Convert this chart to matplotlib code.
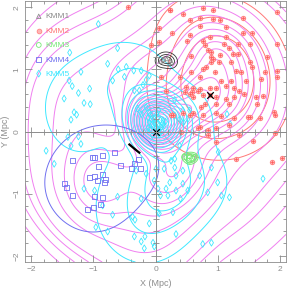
import numpy as np
import matplotlib
matplotlib.use("Agg")
import matplotlib.pyplot as plt

# ---------------- data (Mpc) ----------------
kmm1_x = [0.08, 0.13, 0.18, 0.23, 0.26]
kmm1_y = [1.13, 1.16, 1.17, 1.14, 1.11]

kmm2_x = [0.24, 0.44, 0.76, 0.92, 0.55, 0.71, 0.92, 1.03, 1.41, 1.95,
          0.71, 1.14, 1.41, 0.27, 0.55, 0.88, 1.14, 1.55,
          0.06, 0.50, 0.76, 0.80, 1.11, 1.19, 1.32, 1.52, 1.95,
          0.84, 0.90, 0.57, 0.90, 1.03, 1.25, 1.33, 1.79,
          0.93, 0.90, 1.02, 1.22, 1.52, 1.55, 0.82,
          0.57, 0.76, 0.95, 1.30, 1.38, 1.95, 1.76,
          0.09, 0.39, 0.71, 1.06, 1.22, 1.46, 1.70, 1.95,
          0.49, 0.60, 0.71, 0.87, 0.98, 1.14, 1.27, 1.35, 0.47, 0.58, 0.68,
          0.17, 0.55, 0.60, 0.76, 0.87, 0.98, 1.14, 1.27, 1.43, 1.62, 1.73,
          0.79, 0.98, 1.19, 0.74,
          0.28, 0.60, 0.76, 0.98, 1.06, 1.27, 1.52, 1.68, 1.92,
          0.71, 0.84, 0.98, 0.25, 0.55, 0.45,
          0.41, 0.68, 0.84, 0.98, 1.19, 1.35, 1.57, 1.92, 1.30, 1.87, 2.03,
          1.49, 1.63, 1.90, -0.45, -0.07, 0.06, 0.23]
kmm2_y = [1.95, 1.89, 1.99, 1.95, 1.79, 1.82, 1.81, 1.80, 1.83, 1.92,
          1.70, 1.68, 1.58, 1.58, 1.55, 1.52, 1.52, 1.58,
          1.44, 1.46, 1.46, 1.39, 1.41, 1.35, 1.41, 1.41, 1.41,
          1.31, 1.28, 1.21, 1.20, 1.23, 1.25, 1.24, 1.20,
          1.16, 1.12, 1.12, 1.12, 1.12, 1.04, 1.04,
          0.96, 1.00, 0.96, 0.98, 0.96, 0.98, 0.96,
          0.88, 0.88, 0.87, 0.82, 0.82, 0.82, 0.85, 0.88,
          0.71, 0.70, 0.69, 0.70, 0.70, 0.74, 0.70, 0.65, 0.63, 0.63, 0.65,
          0.65, 0.61, 0.56, 0.58, 0.58, 0.55, 0.53, 0.55, 0.61, 0.55, 0.57,
          0.45, 0.44, 0.45, 0.40,
          0.26, 0.29, 0.26, 0.29, 0.25, 0.22, 0.23, 0.22, 0.26,
          0.07, 0.02, 0.05, 0.26, 0.26, 0.30,
          -0.01, 0.05, -0.06, -0.17, 0.10, -0.06, -0.15, -0.03, -0.44, -0.49, -0.43,
          0.23, 0.45, 0.31, 2.00, 1.39, 1.66, 1.95]

kmm3_x = [0.47, 0.55, 0.59, 0.63, 0.54]
kmm3_y = [-0.41, -0.40, -0.44, -0.41, -0.47]

kmm4_x = [-1.33, -0.98, -0.85, -0.66, -0.92, -0.56, -0.28, -0.34, -0.39, -0.24,
          -1.06, -0.98, -0.85, -0.81, -0.94, -0.82, -1.47, -1.44, -1.33, -0.98,
          -0.85, -0.88, -0.99, -1.09, -1.01]
kmm4_y = [-0.47, -0.42, -0.39, -0.34, -0.56, -0.54, -0.45, -0.51, -0.60, -0.59,
          -0.74, -0.72, -0.69, -0.77, -0.79, -0.82, -0.83, -0.90, -1.03, -1.04,
          -1.06, -1.18, -1.22, -1.26, -0.42]

kmm5_x = [-0.92, -1.38, -1.20, -1.39, -1.34, -1.06, -1.24, -1.47, -0.77, -0.61,
          -0.69, -0.50, -0.47, -0.35, -0.23, -0.10, -0.15, -0.20, -0.34, -0.26, -0.60,
          -1.31, -1.27, -1.36, -1.15, -1.05, -1.76, -1.41, -1.24, -1.36, -1.20, -1.63,
          -0.98,
          -0.29, -0.23, -0.15, -0.10, -0.02, 0.04, -0.05, 0.09, 0.00, -0.08, 0.12,
          0.31, 0.39, 0.52, 0.45, 0.02, 0.06, -0.05, 0.01, 0.31, 0.44, 0.05, 0.55,
          -0.12, -0.06, 0.03, 0.08, -0.10, -0.02, 0.06, 0.14, -0.04, 0.02, 0.10,
          -0.12, 0.00, 0.05, 0.16, -0.07, 0.11,
          0.01, -0.31, -0.15, -0.02, 0.04, 0.14, 0.25, 0.31, 0.44, 0.44, 0.52,
          0.33, 0.23, 0.17, 0.39, 0.31, 0.33,
          0.71, 0.90, 1.00, 1.06, 1.19, 0.84, 1.01, 1.73, 0.28, 0.04,
          0.33, -0.04, 0.76, 0.90, 1.20, 1.15, 0.08, 0.20, 0.40,
          -0.61, -0.69, -0.77, -0.37, -0.33, -0.23, -0.10, -0.34, -0.23, -0.18,
          -0.02, 0.06, -1.15, -0.96, -0.17, -0.85]
kmm5_y = [1.73, 1.27, 0.96, 0.82, 0.73, 0.69, 0.62, 0.53, 1.09, 1.34,
          0.82, 0.88, 1.04, 0.98, 0.98, 0.90, 0.83, 0.75, 0.66, 0.66, 1.00,
          0.31, 0.27, 0.19, 0.46, 0.44, -0.31, -0.09, -0.08, -0.23, -0.20, -0.52,
          -0.95,
          0.37, 0.28, 0.39, 0.30, 0.20, 0.12, 0.12, 0.07, 0.05, 0.04, 0.18,
          0.26, 0.20, 0.20, 0.15, 0.28, -0.05, -0.06, 0.00, 0.51, 0.34, 0.34, 0.34,
          0.22, 0.25, 0.22, 0.18, 0.15, 0.14, 0.10, 0.10, 0.08, 0.06, 0.02,
          0.05, 0.17, -0.02, 0.16, 0.20, 0.13,
          -0.60, -0.63, -0.68, -0.79, -0.92, -0.60, -0.47, -0.58, -0.63, -0.84, -0.95,
          -0.95, -0.82, -0.92, -0.23, -0.44, -0.71,
          -0.71, -0.58, -0.82, -1.03, -1.06, -0.98, -0.33, -0.76, -1.30, -1.30,
          -1.65, -1.79, -1.81, -1.79, 0.12, 0.28, -1.03, -1.03, -1.08,
          -1.05, -1.34, -1.61, -1.37, -1.42, -1.08, -1.48, -1.69, -1.77, -1.88,
          -1.85, -1.32, -0.92, -1.54, -1.69, -1.19]

centers_x = [0.0, 0.87]
centers_y = [0.0, 0.58]
arc_x = [-0.42, -0.36, -0.30, -0.26]
arc_y = [-0.21, -0.26, -0.31, -0.34]

groups = ["KMM1", "KMM2", "KMM3", "KMM4", "KMM5"]

# ---------------- styling ----------------
GRAY = "#8c8c8c"
C_RED = "#ff7878"
C_GREEN = "#77e877"
C_BLUE = "#7070f0"
C_CYAN = "#40e8ff"
C_MAG = "#f080f0"
plt.rcParams['font.family'] = ['Liberation Sans', 'DejaVu Sans']

fig = plt.figure(figsize=(2.87, 2.91), dpi=100)
L, B, W, H = 25 / 287, 29 / 291, 261 / 287, 261 / 291
ax = fig.add_axes([L, B, W, H])
lim = (-2.1, 2.1)
ax.set_xlim(lim)
ax.set_ylim(lim)

# ---------------- adaptive kernel densities ----------------
g = np.linspace(-2.1, 2.1, 211)
GX, GY = np.meshgrid(g, g)


def adaptive_kde(xs, ys, h0, alpha=0.5):
    xs = np.asarray(xs, float)
    ys = np.asarray(ys, float)
    dd = (xs[:, None] - xs[None, :]) ** 2 + (ys[:, None] - ys[None, :]) ** 2
    pilot = np.exp(-dd / (2 * h0 * h0)).sum(1)
    lam = (pilot / np.exp(np.mean(np.log(pilot)))) ** (-alpha)
    hi = h0 * lam
    d2 = (GX[..., None] - xs) ** 2 + (GY[..., None] - ys) ** 2
    return (np.exp(-d2 / (2 * hi ** 2)) / hi ** 2).sum(-1)


all_x = kmm1_x + kmm2_x + kmm3_x + kmm4_x + kmm5_x
all_y = kmm1_y + kmm2_y + kmm3_y + kmm4_y + kmm5_y

d2 = adaptive_kde(kmm2_x, kmm2_y, 0.5, 0.3)
ax.contour(GX, GY, d2, levels=np.linspace(d2.max() * 0.2, d2.max() * 0.65, 3),
           colors=C_RED, linewidths=0.7, zorder=1)

d_all = adaptive_kde(all_x, all_y, 0.34, 0.45)
mag_levels = d_all.max() * np.concatenate([[0.006, 0.012, 0.02], np.linspace(0.03, 1, 21)])
ax.contour(GX, GY, d_all, levels=mag_levels, colors=C_MAG, linewidths=0.7, zorder=1.5)

d5 = adaptive_kde(kmm5_x, kmm5_y, 0.4, 0.5)
ax.contour(GX, GY, d5, levels=np.linspace(d5.max() * 0.07, d5.max(), 12),
           colors=C_CYAN, linewidths=0.7, zorder=2)

d4 = adaptive_kde(kmm4_x, kmm4_y, 0.42, 0.0)
ax.contour(GX, GY, d4, levels=[d4.max() * 0.25], colors=C_BLUE, linewidths=0.7, zorder=2)

d3 = adaptive_kde(kmm3_x, kmm3_y, 0.05, 0.0)
ax.contour(GX, GY, d3, levels=np.linspace(d3.max() * 0.25, d3.max() * 0.7, 3),
           colors=C_GREEN, linewidths=0.7, zorder=2)

d1 = adaptive_kde(kmm1_x, kmm1_y, 0.07, 0.0)
ax.contour(GX, GY, d1, levels=np.linspace(d1.max() * 0.2, d1.max() * 0.75, 3),
           colors="#333333", linewidths=0.6, zorder=2)

# ---------------- points ----------------
ax.scatter(kmm5_x, kmm5_y, marker="d", s=12, facecolors="none", edgecolors=C_CYAN,
           linewidths=0.6, zorder=3)
ax.scatter(kmm4_x, kmm4_y, marker="s", s=13, facecolors="none", edgecolors=C_BLUE,
           linewidths=0.6, zorder=3)
ax.scatter(kmm3_x, kmm3_y, marker="o", s=13, facecolors="none", edgecolors=C_GREEN,
           linewidths=0.6, zorder=3)
ax.scatter(kmm2_x, kmm2_y, marker="o", s=11, facecolors="#ffb4b4", edgecolors=C_RED,
           linewidths=0.5, zorder=3)
ax.scatter(kmm2_x, kmm2_y, marker="+", s=8, color="#ff5a5a", linewidths=0.5, zorder=3)
ax.scatter(kmm1_x, kmm1_y, marker="^", s=8, facecolors="none", edgecolors=GRAY,
           linewidths=0.6, zorder=3)
ax.scatter(centers_x, centers_y, marker="x", s=22, color="black", linewidths=0.9, zorder=4)
ax.plot(arc_x, arc_y, color="black", lw=1.6, zorder=4)

# legend
hand = [
    ax.scatter([], [], marker="^", s=10, facecolors="none", edgecolors=GRAY, linewidths=0.6),
    ax.scatter([], [], marker="o", s=12, facecolors="#ffb4b4", edgecolors=C_RED, linewidths=0.5),
    ax.scatter([], [], marker="o", s=12, facecolors="none", edgecolors=C_GREEN, linewidths=0.6),
    ax.scatter([], [], marker="s", s=12, facecolors="none", edgecolors=C_BLUE, linewidths=0.6),
    ax.scatter([], [], marker="d", s=12, facecolors="none", edgecolors=C_CYAN, linewidths=0.6),
]
leg = ax.legend(hand, groups, loc="upper left", frameon=False, fontsize=6,
                handlelength=0.5, handletextpad=0.55, labelspacing=0.78,
                borderaxespad=0.3, borderpad=1.1)
for t, c in zip(leg.get_texts(), [GRAY, C_RED, C_GREEN, C_BLUE, C_CYAN]):
    t.set_color(c)

# ---------------- axes ----------------
ticks = [-2, -1, 0, 1, 2]
labels = ["\u22122", "\u22121", "0", "1", "2"]
minor = np.arange(-2.0, 2.01, 0.2)
ax.set_xticks(ticks)
ax.set_yticks(ticks)
ax.set_xticklabels(labels)
ax.set_yticklabels(labels, rotation=90, va="center")
ax.set_xticks(minor, minor=True)
ax.set_yticks(minor, minor=True)
ax.tick_params(which="both", direction="in", top=True, right=True, colors=GRAY,
               labelsize=6, width=0.6)
ax.tick_params(which="major", length=5, pad=3)
ax.tick_params(which="minor", length=2.5)
for s in ax.spines.values():
    s.set_color(GRAY)
    s.set_linewidth(0.6)
ax.set_xlabel("X (Mpc)", fontsize=6.5, color=GRAY, labelpad=4)
ax.set_ylabel("Y (Mpc)", fontsize=6.5, color=GRAY, labelpad=3)

# central cross axes with ticks
ax2 = fig.add_axes([L, B, W, H], facecolor="none")
ax2.set_xlim(lim)
ax2.set_ylim(lim)
for k in ("top", "right"):
    ax2.spines[k].set_visible(False)
ax2.spines["left"].set_position(("data", 0))
ax2.spines["bottom"].set_position(("data", 0))
for k in ("left", "bottom"):
    ax2.spines[k].set_color(GRAY)
    ax2.spines[k].set_linewidth(0.7)
ax2.set_xticks(ticks)
ax2.set_yticks(ticks)
ax2.set_xticks(minor, minor=True)
ax2.set_yticks(minor, minor=True)
ax2.tick_params(which="both", direction="inout", colors=GRAY, labelleft=False,
                labelbottom=False, width=0.6)
ax2.tick_params(which="major", length=7)
ax2.tick_params(which="minor", length=4)

fig.savefig("out.png", dpi=100)
